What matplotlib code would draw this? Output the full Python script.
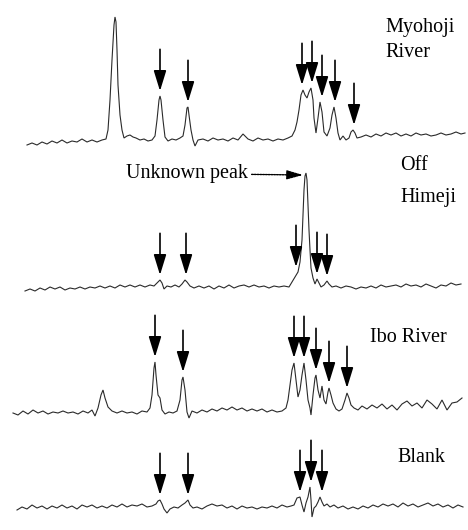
import numpy as np
import matplotlib
matplotlib.use("Agg")
import matplotlib.pyplot as plt

# ---------------- data (retention position, detector response) ----------------
labels = [["Myohoji", "River"], ["Off", "Himeji"], ["Ibo River"], ["Blank"]]

rt_myohoji = [27, 32, 37, 42, 47, 52, 57, 62, 67, 72, 77, 82, 87, 92, 97, 102, 106, 108, 110, 112,
              114, 115, 116, 117, 118, 120, 122, 124, 127, 130, 133, 136, 140, 144, 148, 152, 155, 157,
              159, 160, 161, 163, 165, 168, 172, 176, 180, 183, 185, 187, 188, 189, 191, 193, 195, 198,
              203, 208, 213, 218, 223, 228, 233, 238, 243, 248, 253, 258, 263, 268, 273, 278, 283, 288,
              292, 295, 297, 299, 301, 303, 305, 307, 309, 311, 313, 314, 316, 318, 320, 322, 324, 327,
              330, 332, 334, 336, 338, 340, 343, 346, 349, 351, 353, 355, 357, 361, 366, 371, 376, 381,
              386, 391, 396, 401, 406, 411, 416, 421, 426, 431, 436, 441, 446, 451, 456, 461, 465]
sig_myohoji = [-5, -3, -5, -2, -4, -1, -3, 0, -3, -1, -2, 1, -2, 0, -2, 0, 1, 10, 40, 80,
               115, 123, 118, 90, 55, 25, 10, 2, 4, 5, 3, 2, 0, 1, -1, 0, 4, 20,
               40, 44, 40, 20, 3, -1, 1, 0, 2, 4, 15, 32, 33, 25, 10, 0, -6, 0,
               1, -1, 2, 0, 1, -1, 2, 0, 6, 1, -1, 2, 0, 1, -1, 1, 0, 2,
               4, 10, 18, 30, 45, 50, 45, 42, 48, 52, 40, 22, 7, 22, 38, 28, 8, 4,
               12, 25, 33, 22, 7, 0, 4, 0, 2, 8, 10, 7, 2, 3, 5, 3, 6, 4,
               7, 5, 7, 4, 6, 4, 7, 5, 6, 4, 5, 7, 5, 6, 8, 6, 7]

rt_himeji = [25, 30, 35, 40, 45, 50, 55, 60, 65, 70, 75, 80, 85, 90, 95, 100, 105, 110, 115, 120,
             125, 130, 135, 140, 145, 150, 154, 157, 160, 162, 164, 167, 171, 175, 179, 182, 185, 187,
             190, 194, 199, 204, 209, 214, 219, 224, 229, 234, 239, 244, 249, 254, 259, 264, 269, 274,
             279, 284, 289, 292, 295, 298, 300, 302, 303, 304, 305, 306, 307, 308, 309, 310, 311, 313,
             315, 317, 319, 321, 324, 327, 329, 332, 336, 341, 346, 351, 356, 361, 366, 371, 376, 381,
             386, 391, 396, 401, 406, 411, 416, 421, 426, 431, 436, 441, 446, 451, 456, 461]
sig_himeji = [-3, -1, -3, 0, -2, 1, -1, 1, -2, 0, -1, 1, -1, 1, 0, 2, 0, 2, 0, 3,
              1, 3, 1, 3, 1, 3, 2, 5, 8, 5, -1, 2, 1, 3, 1, 4, 8, 6,
              2, 0, 2, 0, 2, -1, 2, 0, 3, 0, 2, 3, 1, 3, 1, 2, 0, 2,
              1, 2, 1, 6, 11, 16, 26, 48, 73, 98, 112, 115, 108, 83, 58, 38, 20, 10,
              4, 9, 5, 1, 3, 7, 4, 1, 2, 0, 2, 1, -1, 1, 0, 2, 0, 3,
              1, 2, 3, 1, 4, 2, 3, 1, 4, 2, 0, 3, 2, 5, 3, 4]

rt_ibo = [13, 18, 23, 28, 33, 38, 43, 48, 53, 58, 63, 68, 73, 78, 83, 88, 92, 95, 98, 101,
          103, 105, 108, 112, 117, 122, 127, 132, 137, 142, 147, 150, 152, 154, 155, 156, 158, 160,
          162, 165, 169, 173, 177, 180, 182, 183, 185, 187, 189, 192, 197, 202, 207, 212, 217, 222,
          227, 232, 237, 242, 247, 252, 257, 262, 267, 272, 277, 282, 286, 288, 290, 292, 294, 296,
          298, 300, 302, 304, 306, 308, 310, 311, 313, 315, 316, 318, 320, 322, 324, 326, 328, 329,
          331, 333, 336, 339, 342, 345, 347, 349, 351, 354, 358, 362, 367, 372, 377, 382, 387, 392,
          397, 402, 407, 412, 417, 422, 427, 432, 437, 442, 447, 452, 457, 462]
sig_ibo = [0, -2, 2, -1, 3, 0, 2, -1, 1, 0, 2, 0, 1, -1, 2, 0, 3, -3, 5, 18,
           23, 15, 6, 2, 0, 2, 0, 1, -1, 2, 1, 5, 18, 45, 51, 38, 18, 15,
           3, -1, 1, 0, 2, 13, 33, 36, 23, 1, -5, 2, 0, 3, 1, 4, 2, 5,
           3, 6, 3, 5, 2, 4, 2, 4, 1, 3, 1, 2, 5, 13, 28, 43, 50, 33,
           16, 23, 38, 50, 33, 13, 5, -2, 18, 35, 38, 23, 15, 27, 13, 9, 21, 25,
           18, 10, 4, 2, 4, 13, 20, 15, 8, 5, 3, 7, 4, 8, 5, 9, 4, 8,
           3, 9, 12, 7, 10, 5, 13, 9, 4, 13, 3, 10, 11, 15]

rt_blank = [17, 22, 27, 32, 37, 42, 47, 52, 57, 62, 67, 72, 77, 82, 87, 92, 97, 102, 107, 112,
            117, 122, 127, 132, 137, 142, 147, 152, 156, 158, 160, 162, 164, 167, 170, 174, 178, 182,
            185, 188, 190, 193, 197, 202, 207, 212, 217, 222, 227, 232, 237, 242, 247, 252, 257, 262,
            267, 272, 277, 282, 287, 291, 294, 297, 300, 302, 304, 306, 308, 310, 311, 312, 314, 316,
            318, 320, 322, 324, 327, 330, 334, 338, 343, 348, 353, 358, 363, 368, 373, 378, 383, 388,
            393, 398, 403, 408, 413, 418, 423, 428, 433, 438, 443, 448, 453, 458, 463]
sig_blank = [-2, 1, -1, 3, 0, 2, -1, 2, 0, 3, 0, 2, -1, 3, 1, 3, 0, 2, 0, 3,
             1, 4, 1, 3, 2, 4, 1, 2, 4, 7, 8, 4, -1, -5, -1, 1, 0, 3,
             5, 8, 3, 0, 1, -1, 2, 4, 2, 3, 0, 2, -1, 2, 0, 1, -1, 1,
             0, 2, 0, 3, 1, 2, 3, 10, 11, 3, -4, 5, 11, 21, 8, -9, 0, 2,
             6, 11, 6, 2, 4, 1, 3, 0, 2, -1, 1, -1, 2, 0, 3, 1, 4, 2,
             4, 1, 5, 2, 4, 1, 3, 5, 2, 4, 1, 3, 0, 3, 1]

# retention positions of the peaks marked with arrows
marked_myohoji = [160, 188, 302, 312, 322, 335, 354]
marked_himeji = [160, 186, 296, 317, 327]
marked_ibo = [155, 183, 294, 304, 316, 329, 347]
marked_blank = [160, 188, 300, 311, 322]
unknown_peak_rt = 306

traces = [
    (rt_myohoji, sig_myohoji, marked_myohoji),
    (rt_himeji, sig_himeji, marked_himeji),
    (rt_ibo, sig_ibo, marked_ibo),
    (rt_blank, sig_blank, marked_blank),
]

# ---------------- layout ----------------
W, H = 468, 530
fig = plt.figure(figsize=(W / 100, H / 100), dpi=100)
fig.patch.set_facecolor("white")
serif = ["Liberation Serif", "DejaVu Serif"]

# (top_px, bottom_px, baseline_px) for each panel band
bands = [(0, 160, 140), (160, 300, 288), (300, 432, 413), (432, 530, 508)]

axes = []
for (rt, sig, marked), (top, bot, base) in zip(traces, bands):
    ax = fig.add_axes([0, 1 - bot / H, 1, (bot - top) / H])
    ax.set_xlim(0, W)
    ax.set_ylim(base - bot, base - top)
    ax.axis("off")
    ax.plot(rt, sig, color="#2a2a2a", lw=0.8, solid_joinstyle="miter")
    rt_a = np.asarray(rt)
    sig_a = np.asarray(sig)
    for m in marked:
        near = np.abs(rt_a - m) <= 2
        tip = sig_a[near].max() + 5
        ax.annotate("", xy=(m, tip), xytext=(0, 30), textcoords="offset points",
                    arrowprops=dict(arrowstyle="-|>,head_length=0.52,head_width=0.16",
                                    mutation_scale=24, lw=1.2, color="black",
                                    shrinkA=0, shrinkB=0),
                    annotation_clip=False)
    axes.append(ax)

# unknown peak annotation on Off Himeji panel
ax2 = axes[1]
rt2 = np.asarray(rt_himeji)
apex = np.asarray(sig_himeji)[np.abs(rt2 - unknown_peak_rt) <= 1].max()
ax2.annotate("Unknown peak", xy=(unknown_peak_rt - 3, apex - 2), xytext=(-40, 1),
             textcoords="offset points", ha="right", va="center",
             fontsize=14.5, family=serif,
             arrowprops=dict(arrowstyle="-|>,head_length=0.7,head_width=0.2",
                             mutation_scale=14, lw=1.0, color="black",
                             linestyle=(0, (1.2, 0.8)), shrinkA=1, shrinkB=0),
             annotation_clip=False)

# sample labels (baseline positions in pixels)
label_pos = [[(385, 32), (385, 57)], [(400, 170), (400, 202)], [(370, 342)], [(397, 462)]]
for lines, poss in zip(labels, label_pos):
    for txt, (x, y) in zip(lines, poss):
        fig.text(x / W, 1 - y / H, txt, fontsize=14.5, family=serif,
                 ha="left", va="baseline", color="black")

fig.savefig("out.png", dpi=100, facecolor="white")
